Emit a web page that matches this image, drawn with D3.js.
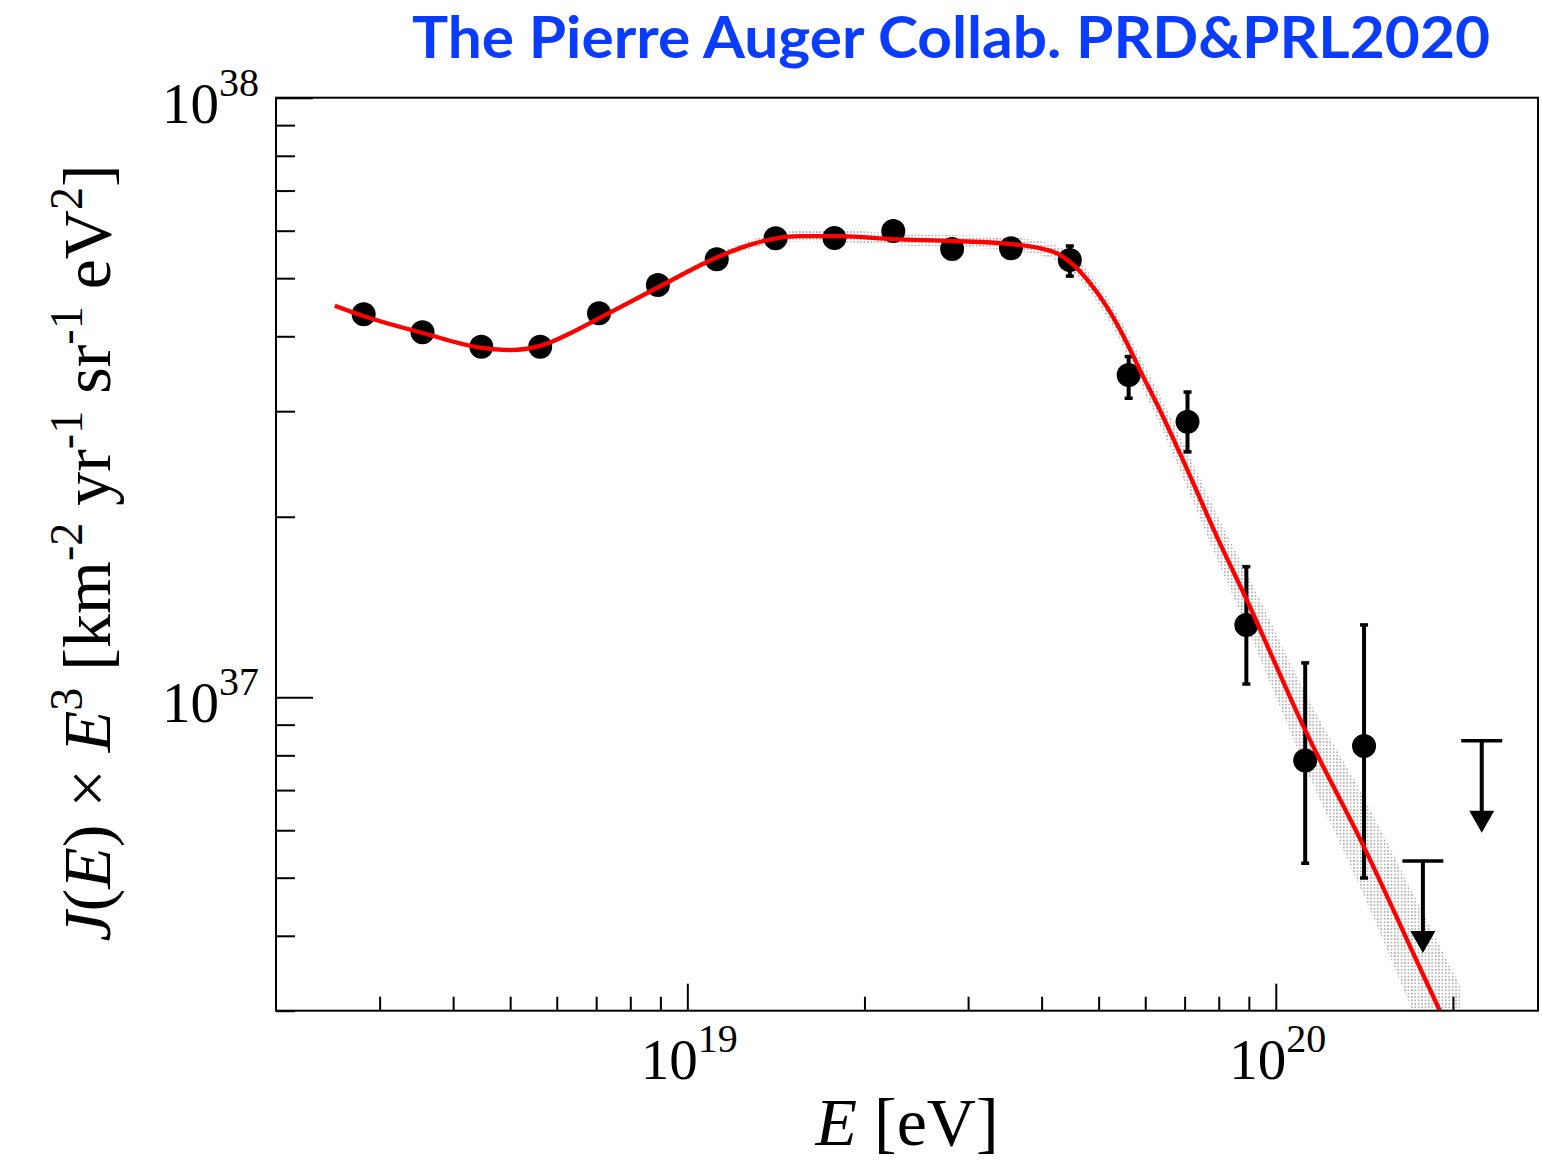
<!DOCTYPE html>
<html>
<head>
<meta charset="utf-8">
<script src="https://cdn.jsdelivr.net/npm/d3@7/dist/d3.min.js"></script>
<style>
  html, body { margin: 0; padding: 0; background: #fff; }
  svg { display: block; }
</style>
</head>
<body>
<script>
// ---------------- DATA ----------------
// bin centres, log10(E/eV)
const binLgE = [18.45, 18.55, 18.65, 18.75, 18.85, 18.95, 19.05, 19.15, 19.25,
                19.35, 19.45, 19.55, 19.65, 19.75, 19.85, 19.95, 20.05, 20.15];
// J(E) x E^3 in units of 1e37 km^-2 yr^-1 sr^-1 eV^2
const fluxE3 = [4.353, 4.061, 3.843, 3.843, 4.369, 4.870, 5.377, 5.829, 5.834,
                5.993, 5.593, 5.608, 5.362, 3.447, 2.881, 1.320, 0.784, 0.829];
const fluxHi = [4.38, 4.09, 3.87, 3.87, 4.40, 4.90, 5.42, 5.88, 5.90,
                6.08, 5.69, 5.74, 5.66, 3.70, 3.229, 1.651, 1.141, 1.320];
const fluxLo = [4.33, 4.03, 3.81, 3.81, 4.34, 4.84, 5.33, 5.78, 5.77,
                5.91, 5.50, 5.48, 5.04, 3.153, 2.566, 1.052, 0.5286, 0.4993];
// upper limits
const limitLgE = [20.25, 20.35];
const limitFlux = [0.533, 0.846];
// fitted spectrum (red curve): log10(E/eV), log10(J E^3)
const fitLgE = [18.401, 18.449, 18.549, 18.648, 18.699, 18.750, 18.801, 18.848, 18.949,
                19.049, 19.098, 19.149, 19.192, 19.260, 19.350, 19.450, 19.548, 19.599,
                19.633, 19.656, 19.684, 19.713, 19.747, 19.769, 19.803, 19.837, 19.905,
                19.948, 20.050, 20.150, 20.249, 20.313];
const fitLgJ = [37.653, 37.636, 37.608, 37.583, 37.579, 37.586, 37.607, 37.631, 37.683,
                37.733, 37.752, 37.765, 37.769, 37.769, 37.764, 37.761, 37.756, 37.749,
                37.738, 37.721, 37.691, 37.651, 37.591, 37.546, 37.479, 37.407, 37.257,
                37.168, 36.945, 36.750, 36.540, 36.405];
// half width of the uncertainty band around the fit (decades)
const bandHalf = [0.004, 0.004, 0.004, 0.004, 0.004, 0.004, 0.004, 0.004, 0.005,
                  0.006, 0.007, 0.008, 0.009, 0.010, 0.010, 0.010, 0.011, 0.012,
                  0.013, 0.014, 0.015, 0.017, 0.019, 0.021, 0.025, 0.029, 0.038,
                  0.045, 0.062, 0.082, 0.102, 0.114];
// axis ticks
const xMajor = [1e19, 1e20];
const xMajorExp = ["19", "20"];
const xMinor = [3e18, 4e18, 5e18, 6e18, 7e18, 8e18, 9e18,
                2e19, 3e19, 4e19, 5e19, 6e19, 7e19, 8e19, 9e19, 2e20];
const yMajor = [1e37, 1e38];
const yMajorExp = ["37", "38"];
const yMinor = [3e36, 4e36, 5e36, 6e36, 7e36, 8e36, 9e36,
                2e37, 3e37, 4e37, 5e37, 6e37, 7e37, 8e37, 9e37];
const titleText = "The Pierre Auger Collab. PRD&PRL2020";

// ---------------- LAYOUT ----------------
const W = 1542, H = 1161;
const L = 276, R = 1538, T = 97.7, B = 1010.7;
const serif = "'Liberation Serif', 'Times New Roman', serif";

const svg = d3.select("body").append("svg").attr("width", W).attr("height", H);

const x = d3.scaleLog().domain([2e18, 2.79e20]).range([L, R]);
const y = d3.scaleLog().domain([3e36, 1e38]).range([B, T]);

const defs = svg.append("defs");
defs.append("clipPath").attr("id", "plotclip")
  .append("rect").attr("x", L).attr("y", T).attr("width", R - L).attr("height", B - T);
const pat = defs.append("pattern").attr("id", "stipple").attr("patternUnits", "userSpaceOnUse")
  .attr("width", 3.4).attr("height", 3.4);
pat.append("rect").attr("x", 0).attr("y", 0).attr("width", 1.6).attr("height", 1.6).attr("fill", "#a8a8a8");

// ---------------- TITLE ----------------
svg.append("text")
  .attr("x", 412).attr("y", 58)
  .attr("font-family", "Lato, 'Open Sans', sans-serif")
  .attr("font-weight", 700)
  .attr("font-size", 57)
  .attr("fill", "#0a3cff")
  .attr("textLength", 1078)
  .attr("lengthAdjust", "spacingAndGlyphs")
  .text(titleText);

// ---------------- PLOT CONTENT ----------------
const plot = svg.append("g").attr("clip-path", "url(#plotclip)");

const fitData = fitLgE.map((e, i) => ({e: e, j: fitLgJ[i], w: bandHalf[i]}));

const band = d3.area()
  .x(d => x(Math.pow(10, d.e)))
  .y0(d => y(Math.pow(10, d.j - d.w)))
  .y1(d => y(Math.pow(10, d.j + d.w)))
  .curve(d3.curveMonotoneX);
plot.append("path").datum(fitData).attr("d", band).attr("fill", "url(#stipple)");

// data points
const pts = binLgE.map((e, i) => ({E: Math.pow(10, e), v: fluxE3[i] * 1e37,
  hi: fluxHi[i] * 1e37, lo: fluxLo[i] * 1e37}));

const gp = plot.append("g");
gp.selectAll("line.err").data(pts).join("line")
  .attr("class", "err")
  .attr("x1", d => x(d.E)).attr("x2", d => x(d.E))
  .attr("y1", d => y(d.hi)).attr("y2", d => y(d.lo))
  .attr("stroke", "#000").attr("stroke-width", 4);
gp.selectAll("line.caphi").data(pts).join("line")
  .attr("x1", d => x(d.E) - 4).attr("x2", d => x(d.E) + 4)
  .attr("y1", d => y(d.hi)).attr("y2", d => y(d.hi))
  .attr("stroke", "#000").attr("stroke-width", 3.5);
gp.selectAll("line.caplo").data(pts).join("line")
  .attr("x1", d => x(d.E) - 4).attr("x2", d => x(d.E) + 4)
  .attr("y1", d => y(d.lo)).attr("y2", d => y(d.lo))
  .attr("stroke", "#000").attr("stroke-width", 3.5);
gp.selectAll("circle").data(pts).join("circle")
  .attr("cx", d => x(d.E)).attr("cy", d => y(d.v)).attr("r", 12)
  .attr("fill", "#000");

// upper limits
const lims = limitLgE.map((e, i) => ({E: Math.pow(10, e), v: limitFlux[i] * 1e37}));
const gl = plot.append("g");
gl.selectAll("line.bar").data(lims).join("line")
  .attr("x1", d => x(d.E) - 20.5).attr("x2", d => x(d.E) + 20.5)
  .attr("y1", d => y(d.v)).attr("y2", d => y(d.v))
  .attr("stroke", "#000").attr("stroke-width", 3.5);
gl.selectAll("line.stem").data(lims).join("line")
  .attr("x1", d => x(d.E)).attr("x2", d => x(d.E))
  .attr("y1", d => y(d.v)).attr("y2", d => y(d.v) + 72)
  .attr("stroke", "#000").attr("stroke-width", 4);
gl.selectAll("path.head").data(lims).join("path")
  .attr("d", d => {
    const cx = x(d.E), cy = y(d.v);
    return `M${cx - 12.5},${cy + 70} L${cx + 12.5},${cy + 70} L${cx},${cy + 92} Z`;
  })
  .attr("fill", "#000");

// fit curve
const fitLine = d3.line()
  .x(d => x(Math.pow(10, d.e)))
  .y(d => y(Math.pow(10, d.j)))
  .curve(d3.curveMonotoneX);
plot.append("path").datum(fitData).attr("d", fitLine)
  .attr("fill", "none").attr("stroke", "#ff0000").attr("stroke-width", 4.3);

// ---------------- AXES ----------------
function styleAxis(g) {
  g.select(".domain").remove();
  g.selectAll(".tick line").attr("stroke", "#000").attr("stroke-width", 2);
  g.selectAll(".tick text").remove();
}
svg.append("g").attr("transform", `translate(0,${B})`)
  .call(d3.axisBottom(x).tickValues(xMajor).tickSize(-27).tickSizeOuter(0)).call(styleAxis);
svg.append("g").attr("transform", `translate(0,${B})`)
  .call(d3.axisBottom(x).tickValues(xMinor).tickSize(-14).tickSizeOuter(0)).call(styleAxis);
svg.append("g").attr("transform", `translate(${L},0)`)
  .call(d3.axisLeft(y).tickValues(yMajor).tickSize(-37).tickSizeOuter(0)).call(styleAxis);
svg.append("g").attr("transform", `translate(${L},0)`)
  .call(d3.axisLeft(y).tickValues(yMinor).tickSize(-19).tickSizeOuter(0)).call(styleAxis);

// frame
svg.append("rect").attr("x", L).attr("y", T).attr("width", R - L).attr("height", B - T)
  .attr("fill", "none").attr("stroke", "#000").attr("stroke-width", 2);

// tick labels
xMajor.forEach((v, i) => {
  const t = svg.append("text").attr("x", x(v) + 2).attr("y", B + 68)
    .attr("text-anchor", "middle").attr("font-family", serif).attr("font-size", 57).attr("fill", "#000");
  t.append("tspan").text("10");
  t.append("tspan").attr("dy", -27).attr("font-size", 40).text(xMajorExp[i]);
});
yMajor.forEach((v, i) => {
  const t = svg.append("text").attr("x", L - 17).attr("y", y(v) + 25)
    .attr("text-anchor", "end").attr("font-family", serif).attr("font-size", 57).attr("fill", "#000");
  t.append("tspan").text("10");
  t.append("tspan").attr("dy", -27).attr("font-size", 40).text(yMajorExp[i]);
});

// x axis title
const xt = svg.append("text").attr("x", 907).attr("y", 1145)
  .attr("text-anchor", "middle").attr("font-family", serif).attr("font-size", 68).attr("fill", "#000");
xt.append("tspan").attr("font-style", "italic").text("E");
xt.append("tspan").text(" [eV]");

// y axis title
const yt = svg.append("text")
  .attr("transform", "translate(110,553) rotate(-90)")
  .attr("text-anchor", "middle").attr("font-family", serif).attr("font-size", 68).attr("fill", "#000");
const ySeg = [
  {t: "J", it: true}, {t: "("}, {t: "E", it: true}, {t: ") × "}, {t: "E", it: true},
  {t: "3", sup: true}, {t: " [km"}, {t: "-2", sup: true}, {t: " yr"}, {t: "-1", sup: true},
  {t: " sr"}, {t: "-1", sup: true}, {t: " eV"}, {t: "2", sup: true}, {t: "]"}
];
let prevSup = false;
ySeg.forEach(s => {
  const sp = yt.append("tspan").text(s.t);
  if (s.it) sp.attr("font-style", "italic");
  if (s.sup) { sp.attr("font-size", 46).attr("dy", -28); prevSup = true; }
  else if (prevSup) { sp.attr("dy", 28); prevSup = false; }
});
</script>
</body>
</html>
